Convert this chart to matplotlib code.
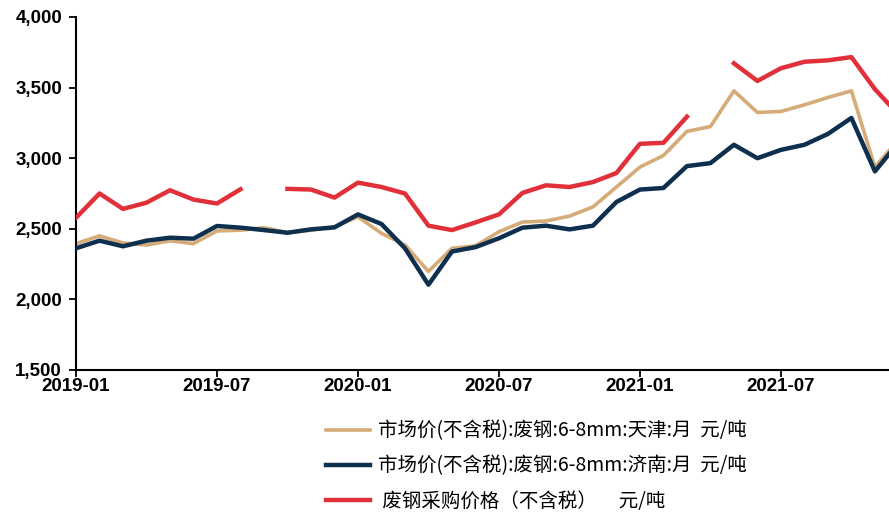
import matplotlib.pyplot as plt
import numpy as np
import pandas as pd

plt.rcParams['font.family'] = ['Noto Sans CJK SC', 'DejaVu Sans']

months = pd.period_range("2019-01", "2021-12", freq="M").strftime("%Y-%m").tolist()

tianjin = [2395, 2450, 2400, 2385, 2415, 2395, 2485, 2490, 2508, 2472,
           2490, 2515, 2585, 2468, 2386, 2198, 2362, 2379, 2479, 2548,
           2555, 2590, 2655, 2796, 2937, 3019, 3190, 3224, 3477, 3324,
           3331, 3378, 3430, 3477, 2937, 3130]

jinan = [2362, 2416, 2376, 2416, 2437, 2430, 2520, 2508, 2491, 2472,
         2496, 2510, 2602, 2534, 2362, 2104, 2339, 2370, 2433, 2508,
         2522, 2496, 2522, 2690, 2778, 2789, 2944, 2965, 3095, 3000,
         3059, 3095, 3172, 3285, 2907, 3110]

purchase = [2578, 2750, 2641, 2685, 2773, 2707, 2679, 2780, np.nan, 2783,
            2778, 2721, 2827, 2796, 2750, 2522, 2491, 2545, 2602, 2754,
            2808, 2796, 2831, 2895, 3102, 3109, 3294, np.nan, 3672, 3547,
            3637, 3683, 3693, 3716, 3489, 3310]

labels = ["市场价(不含税):废钢:6-8mm:天津:月  元/吨",
          "市场价(不含税):废钢:6-8mm:济南:月  元/吨",
          " 废钢采购价格（不含税）     元/吨"]
colors = ["#D5AB78", "#0E2F4E", "#E0303A"]

x = np.arange(len(months))

fig = plt.figure(figsize=(8.89, 5.12), dpi=100)
ax = fig.add_axes([76 / 889, 1 - 370 / 512, 1 - 76 / 889, 353 / 512])

ax.plot(x, tianjin, color=colors[0], lw=2.6, label=labels[0], zorder=2)
ax.plot(x, jinan, color=colors[1], lw=3.2, label=labels[1], zorder=3)
ax.plot(x, purchase, color=colors[2], lw=3.2, label=labels[2], zorder=4)

ax.set_xlim(0, 34.6)
ax.set_ylim(1500, 4000)
ax.set_yticks(np.arange(1500, 4001, 500))
ax.set_xticks(x[::6])

for side in ["top", "right"]:
    ax.spines[side].set_visible(False)
for side in ["left", "bottom"]:
    ax.spines[side].set_linewidth(1.5)
ax.tick_params(direction="out", length=5, width=1.3, pad=5)
ax.tick_params(axis="x", pad=1)

tick_font = {"family": ["Liberation Sans", "DejaVu Sans"], "weight": "bold", "size": 13.5}
ax.set_yticklabels([f"{v:,}" for v in range(1500, 4001, 500)], fontdict=tick_font)
ax.set_xticklabels(months[::6], fontdict=tick_font)

fig.legend(loc="upper left", bbox_to_anchor=(308 / 889, 1 - 403 / 512),
           frameon=False, handlelength=2.3, handletextpad=0.4,
           labelspacing=0.72, prop={"size": 14})

fig.savefig("out.png", dpi=100)
